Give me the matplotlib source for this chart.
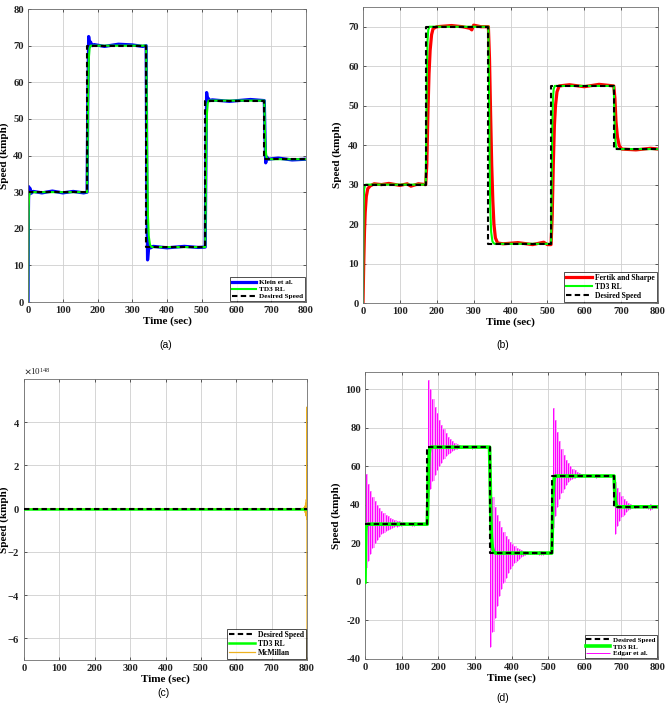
import numpy as np
import matplotlib
matplotlib.use('Agg')
from matplotlib import pyplot as plt
from matplotlib.ticker import ScalarFormatter

plt.rcParams['font.family'] = ['Liberation Serif', 'DejaVu Serif']
plt.rcParams['font.weight'] = 'bold'
plt.rcParams['axes.labelweight'] = 'bold'
plt.rcParams['axes.unicode_minus'] = False
plt.rcParams['mathtext.fontset'] = 'stix'

# desired speed profile (piecewise constant)
step_times = [0, 170, 340, 510, 680, 800]
step_levels = [30, 70, 15, 55, 39]

# TD3 RL response (same controller in every panel)
td3_t = [0, 1, 2, 3, 5, 8, 170, 171.5, 173, 175, 177, 180, 340, 341.5, 343, 345, 347.5, 351, 356,
         510, 511.5, 513, 515, 517, 520, 680, 681.5, 683.5, 686, 690, 800]
td3_v = [0, 17, 26, 28.8, 29.7, 30, 30, 42, 58, 66.5, 69.2, 70, 70, 56, 38, 24, 18, 15.6, 15,
         15, 28, 44, 51.5, 54.2, 55, 55, 48, 42, 39.6, 39, 39]

# Klein et al. (panel a)
klein_t = [0, 1, 2, 4, 6, 9, 15, 40, 70, 100, 130, 160, 170, 172, 174.5, 177, 180, 184, 190, 220, 260, 300, 330,
           340, 342, 344, 346.5, 349, 353, 360, 400, 450, 490, 510, 512, 514, 516.5, 519, 523, 530, 580, 640,
           680, 682, 684, 687, 692, 720, 760, 800]
klein_v = [0, 24, 31.5, 30.4, 31, 29.7, 30.2, 29.8, 30.3, 29.8, 30.2, 29.8, 30, 55, 72.5, 70.3, 71, 70, 70.3, 69.8,
           70.4, 70.2, 69.8, 70, 30, 11.5, 14.2, 15.6, 14.8, 15.2, 14.8, 15.2, 14.9, 15, 40, 57.2, 55, 55.6, 55,
           55.2, 54.8, 55.3, 55, 45, 38, 39.6, 39, 39.3, 38.8, 39]

# Fertik and Sharpe (panel b)
fertik_t = [0, 2, 4, 6, 9, 13, 20, 30, 50, 70, 100, 120, 130, 150, 170, 173, 176, 179, 182, 186, 190, 200, 240,
            270, 290, 295, 300, 320, 340, 343, 346, 349, 352, 355, 359, 365, 380, 420, 460, 490, 500, 510, 513,
            516, 519, 522, 526, 532, 560, 600, 640, 680, 683, 686, 690, 695, 702, 740, 780, 800]
fertik_v = [0, 10, 18, 23, 27, 29, 29.7, 30.2, 30, 30.3, 29.8, 30.2, 29.6, 30.2, 30, 35, 48, 58, 64, 68, 69.5,
            70, 70.3, 70, 69.6, 69.2, 70.4, 70, 70, 62, 48, 35, 26, 20, 16.5, 15.2, 15, 15.3, 14.8, 15.4, 14.8,
            14.8, 22, 35, 45, 50, 53.5, 55, 55.3, 54.8, 55.4, 55, 52, 46, 42, 39.8, 39, 38.8, 39.2, 39]

# McMillan (panel c), values in units of 1e148 kmph
mcmillan_t = [0, 780, 785, 788, 790, 792, 794, 795, 796, 797, 798, 799, 799.6, 800]
mcmillan_e148 = [0, 0, 0.01, -0.02, 0.04, -0.07, 0.12, -0.18, 0.25, -0.33, 0.42, -0.5, 4.7, -7.5]

# Edgar et al. (panel d): oscillation extremes per cycle after each set-point change
edgar_hi = [
    [56, 51, 47, 44, 42, 40, 38.5, 37, 36, 35, 34, 33.3, 32.7, 32.2, 31.8, 31.4, 31.1, 30.9, 30.7,
     30.5, 30.4, 30.8, 31, 30.6],
    [105, 100, 95, 91, 87.5, 84, 81.5, 79.5, 77.5, 75.5, 74.2, 73, 72.2, 71.6, 71.1, 70.8, 70.5,
     70.4, 70.3, 70.8, 70.8, 70.5],
    [52, 44, 39, 35, 31.5, 28.5, 26, 24, 22.3, 20.8, 19.6, 18.6, 17.8, 17.1, 16.6, 16.2, 15.9, 15.6,
     15.4, 15.3, 15.6, 15.5, 16, 16.2, 15.8],
    [90.5, 84, 78, 73, 69, 66, 63.5, 61.5, 60, 58.8, 57.9, 57.2, 56.6, 56.2, 55.9, 55.6, 55.4, 55.2,
     55.1, 55.5, 55.8, 55.4],
    [52, 49, 46.5, 44.5, 43, 41.8, 41, 40.3, 39.9, 39.6, 39.4, 39.3, 39.2, 39.4, 39.8, 40.2, 40.5, 40],
]
edgar_lo = [
    [7, 11, 14.5, 17.5, 20, 22, 23.5, 24.7, 25.6, 26.4, 27, 27.6, 28, 28.4, 28.7, 29, 29.2, 29.4, 29.5,
     29.6, 29.6, 29.2, 29, 29.4],
    [44, 48.5, 52.5, 55.5, 58, 60, 62, 63.8, 65.2, 66.3, 67.2, 68, 68.6, 69, 69.3, 69.6, 69.8,
     69.8, 69.8, 69.3, 69.2, 69.6],
    [-34, -26, -18.5, -12.5, -7.5, -3.5, -0.5, 2, 4.5, 6.5, 8.3, 9.8, 11, 12, 12.8, 13.4, 13.9, 14.3,
     14.6, 14.7, 14.4, 14.5, 14, 13.8, 14.2],
    [28, 34, 39, 43, 46, 48.5, 50.3, 51.7, 52.8, 53.5, 54, 54.3, 54.5, 54.7, 54.8, 54.9, 55, 55,
     55, 54.5, 54.2, 54.6],
    [25, 29, 31.5, 33.5, 35, 36.2, 37.1, 37.7, 38.2, 38.5, 38.7, 38.8, 38.8, 38.6, 38.2, 37.8, 37.6, 38],
]
edgar_spacing = 6.0

x_ticks = [0, 100, 200, 300, 400, 500, 600, 700, 800]

GREEN = '#00FF00'
DASH = (2.6, 1.6)


def desired_path():
    t, v = [step_times[0]], [step_levels[0]]
    for i in range(1, len(step_levels)):
        t += [step_times[i], step_times[i]]
        v += [step_levels[i - 1], step_levels[i]]
    t.append(step_times[-1])
    v.append(step_levels[-1])
    return np.array(t, float), np.array(v, float)


def edgar_cycles(i):
    t = [step_times[i] + 2 + edgar_spacing * k for k in range(len(edgar_hi[i]))]
    return t, edgar_lo[i], edgar_hi[i]


def style_axes(ax, ylim, yticks, ylab_x):
    ax.set_xlim(0, 800)
    ax.set_ylim(*ylim)
    ax.set_xticks(x_ticks)
    ax.set_yticks(yticks)
    ax.grid(True, color='#cfcfcf', linewidth=0.6)
    ax.set_axisbelow(True)
    ax.tick_params(direction='in', length=2.5, width=0.5, labelsize=7.6, top=True, right=True,
                   colors='#222222', pad=3)
    for s in ax.spines.values():
        s.set_color('#6e6e6e')
        s.set_linewidth(0.6)
    ax.set_xlabel('Time (sec)', fontsize=8, labelpad=1)
    ax.set_ylabel('Speed (kmph)', fontsize=8)
    ax.yaxis.set_label_coords(ylab_x, 0.5)


def add_legend(ax, handles=None, labels=None, size=5.2):
    if handles is None:
        handles, labels = ax.get_legend_handles_labels()
    leg = ax.legend(handles, labels, loc='lower right', fontsize=size, frameon=True, fancybox=False,
                    handlelength=3.4, borderaxespad=0.15, borderpad=0.25, labelspacing=0.12,
                    handletextpad=0.4)
    leg.get_frame().set_edgecolor('black')
    leg.get_frame().set_linewidth(0.6)


def caption(fig, x, y, text):
    fig.text(x, y, text, ha='center', va='center', fontsize=7.5, fontweight='normal',
             family=['Liberation Sans', 'DejaVu Sans'])


def main():
    fig = plt.figure(figsize=(6.69, 7.06), dpi=100)
    des_t, des_v = desired_path()

    # (a)
    ax = fig.add_axes([0.0419, 0.5722, 0.4155, 0.4150])
    ax.plot(klein_t, klein_v, color='#0000FF', linewidth=2.3, label='Klein et al.')
    ax.plot(td3_t, td3_v, color=GREEN, linewidth=1.5, label='TD3 RL')
    ax.plot(des_t, des_v, color='black', linewidth=1.5, dashes=DASH, label='Desired Speed')
    style_axes(ax, (0, 80), range(0, 81, 10), -0.068)
    add_legend(ax)

    # (b)
    ax = fig.add_axes([0.5426, 0.5708, 0.4410, 0.4193])
    ax.plot(fertik_t, fertik_v, color='#FF0000', linewidth=2.3, label='Fertik and Sharpe')
    ax.plot(td3_t, td3_v, color=GREEN, linewidth=1.5, label='TD3 RL')
    ax.plot(des_t, des_v, color='black', linewidth=1.5, dashes=DASH, label='Desired Speed')
    style_axes(ax, (0, 75), range(0, 71, 10), -0.07)
    add_legend(ax, size=5.5)

    # (c)
    ax = fig.add_axes([0.0359, 0.0652, 0.4230, 0.3980])
    ax.plot(des_t, des_v, color='black', linewidth=1.5, dashes=DASH, label='Desired Speed', zorder=4)
    ax.plot(td3_t, td3_v, color=GREEN, linewidth=1.8, label='TD3 RL', zorder=3)
    ax.plot(mcmillan_t, np.array(mcmillan_e148) * 1e148, color='#EDB120', linewidth=0.9,
            label='McMillan', zorder=2)
    style_axes(ax, (-7e148, 6e148), [v * 1e148 for v in (-6, -4, -2, 0, 2, 4)], -0.052)
    fmt = ScalarFormatter(useMathText=True)
    ax.yaxis.set_major_formatter(fmt)
    ax.yaxis.get_offset_text().set_fontsize(6.5)
    ax.yaxis.get_offset_text().set_fontweight('normal')
    add_legend(ax, size=5.5)

    # (d)
    ax = fig.add_axes([0.5456, 0.0666, 0.4380, 0.4065])
    for i in range(len(edgar_hi)):
        ct, clo, chi = edgar_cycles(i)
        ax.fill_between(ct, clo, chi, step='post', color='#FF9CFF', linewidth=0, zorder=1.5)
        ed = ax.vlines(ct, clo, chi, color='#FF00FF', linewidth=0.7, zorder=2)
    ed.set_label('Edgar et al.')
    td = ax.plot(td3_t, td3_v, color=GREEN, linewidth=2.6, label='TD3 RL', zorder=3)[0]
    de = ax.plot(des_t, des_v, color='black', linewidth=1.5, dashes=DASH, label='Desired Speed',
                 zorder=4)[0]
    style_axes(ax, (-40, 109), range(-40, 101, 20), -0.082)
    add_legend(ax, [de, td, ed], ['Desired Speed', 'TD3 RL', 'Edgar et al.'], size=5.0)

    caption(fig, 0.248, 0.511, '(a)')
    caption(fig, 0.752, 0.511, '(b)')
    caption(fig, 0.244, 0.018, '(c)')
    caption(fig, 0.752, 0.011, '(d)')

    fig.savefig('out.png', dpi=100)


if __name__ == '__main__':
    main()
